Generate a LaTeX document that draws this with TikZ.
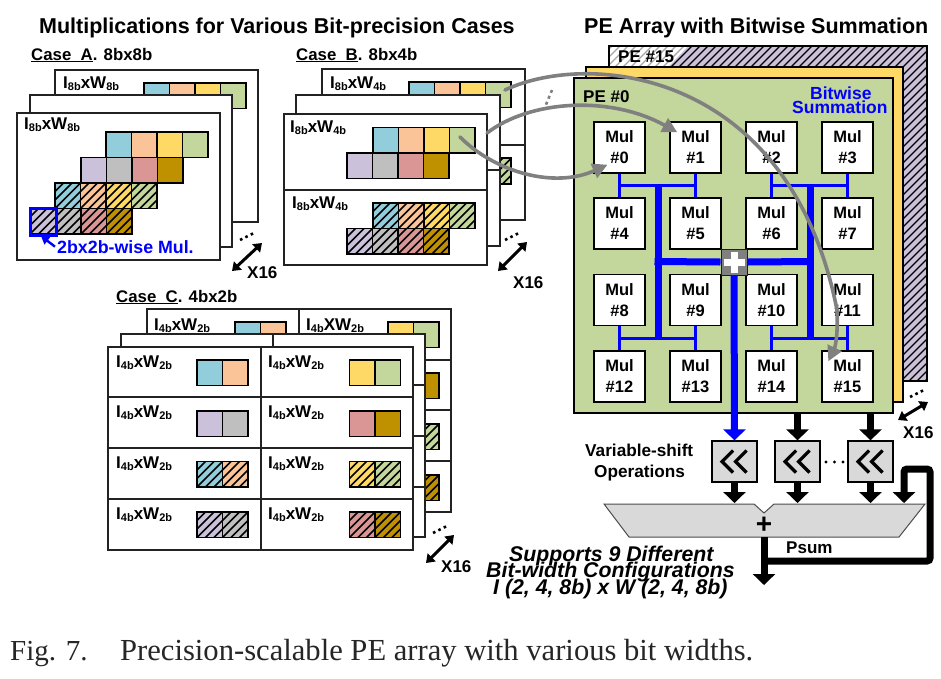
\documentclass[tikz,border=0pt]{standalone}
\usepackage{fontspec}
\setmainfont{Liberation Sans}
\newfontfamily\capfont{Liberation Serif}
\usetikzlibrary{arrows.meta,calc}
\definecolor{ca}{HTML}{92CDDC}
\definecolor{cb}{HTML}{FAC398}
\definecolor{cc}{HTML}{FFD966}
\definecolor{cd}{HTML}{C3D69B}
\definecolor{ce}{HTML}{CCC1DA}
\definecolor{cf}{HTML}{BFBFBF}
\definecolor{cg}{HTML}{D99694}
\definecolor{ch}{HTML}{BF9000}
\definecolor{bluebus}{HTML}{0000FF}
\definecolor{grayarrow}{HTML}{808080}
\definecolor{boxgray}{HTML}{D9D9D9}
\definecolor{pagedark}{HTML}{222222}
\tikzset{
  txt/.style={inner sep=0pt,anchor=base west,font=\bfseries\fontsize{17}{17}\selectfont},
  casetxt/.style={txt,font=\bfseries\fontsize{16.8}{17}\selectfont},
  paper/.style={draw=pagedark,line width=1.1pt,fill=white},
  pagerule/.style={draw=pagedark,line width=1.1pt},
  cellline/.style={draw=black,line width=1.7pt},
  mulbox/.style={draw=black,line width=1.4pt,fill=white,minimum width=51pt,minimum height=51pt,inner sep=0pt,align=center,font=\bfseries\fontsize{16.5}{21}\selectfont},
  shiftbox/.style={draw=black,line width=1.3pt,fill=boxgray,minimum width=45pt,minimum height=41pt,inner sep=0pt},
  thinbus/.style={draw=bluebus,line width=3.5pt},
  thickbus/.style={draw=bluebus,line width=7pt},
  bigarrow/.style={draw=black,line width=7pt,-{Triangle[length=11pt,width=22pt]}},
  bluearrow/.style={draw=bluebus,line width=7pt,-{Triangle[length=11pt,width=22pt]}},
  sizearrow/.style={draw=black,line width=3pt,{Triangle[length=8pt,width=11pt]}-{Triangle[length=8pt,width=11pt]}},
  dotline/.style={draw=black,line width=2.6pt,dash pattern=on 2.6pt off 3.4pt},
  curve/.style={draw=grayarrow,line width=3.6pt,line cap=round},
  curvearrow/.style={curve,-{Triangle[length=15pt,width=15pt]}},
  chev/.style={draw=black,line width=3.2pt},
  titletxt/.style={txt,font=\bfseries\fontsize{21.5}{21.5}\selectfont},
  notetxt/.style={txt,font=\bfseries\itshape\fontsize{21.3}{21.3}\selectfont},
}
\newcommand{\cellf}[5]{\fill[#5] (#1,#2) rectangle ++(#3,#4); \draw[cellline] (#1,#2) rectangle ++(#3,#4);}
\newcommand{\cellh}[5]{%
  \begin{scope}
    \clip (#1,#2) rectangle ++(#3,#4);
    \fill[#5] (#1,#2) rectangle ++(#3,#4);
    \foreach \d in {-34,-25.5,-17,-8.5,0,8.5,17,25.5}
      \draw[black,line width=1.5pt] ({#1+\d},{#2+#4}) -- ({#1+\d+#4},#2);
  \end{scope}
  \draw[cellline] (#1,#2) rectangle ++(#3,#4);}
\newcommand{\rowf}[3]{\foreach \c [count=\i from 0] in {#3} {\pgfmathsetmacro\xx{#1+\i*25.5}\cellf{\xx}{#2}{25.5}{25.5}{\c}}}
\newcommand{\rowh}[3]{\foreach \c [count=\i from 0] in {#3} {\pgfmathsetmacro\xx{#1+\i*25.5}\cellh{\xx}{#2}{25.5}{25.5}{\c}}}
\newcommand{\sub}[1]{{\fontsize{11}{11}\selectfont\raisebox{-2.5pt}{#1}}}
\newcommand{\lab}[3]{I\sub{#1}#3W\sub{#2}}
\begin{document}
\begin{tikzpicture}[x=1pt,y=-1pt]
\useasboundingbox (0,0) rectangle (941,678);
\fill[white] (0,0) rectangle (941,678);

% titles
\node[titletxt] (t1) at (39,33) {Multiplications for Various Bit-precision Cases};
\node[titletxt] (t2) at (584,33) {PE Array with Bitwise Summation};

% ---------- Case A
\node[casetxt] (ca) at (31,60) {\underline{Case\ \ A}. 8bx8b};
\draw[paper] (55,70) rectangle (258,222);
\node[txt] (a1) at (63,88) {\lab{8b}{8b}{x}};
\rowf{144}{83}{ca,cb,cc,cd}
\draw[paper] (30,95) rectangle (232,247);
\draw[paper] (17,113) rectangle (220,260);
\node[txt] (a2) at (24,129) {\lab{8b}{8b}{x}};
\rowf{106}{132}{ca,cb,cc,cd}
\rowf{81}{157.5}{ce,cf,cg,ch}
\rowh{55}{183}{ca,cb,cc,cd}
\rowh{30}{208.5}{ce,cf,cg,ch}
\draw[draw=bluebus,line width=3pt] (30,208.5) rectangle (56,235);
\node[txt,text=bluebus,font=\bfseries\fontsize{17.8}{17.8}\selectfont] (a3) at (57,253) {2bx2b-wise Mul.};
\coordinate (a3t) at (41,236);
\draw[draw=bluebus,line width=2.4pt,-{Triangle[length=8pt,width=9pt]}] (a3.west) ++(-2,0) -- (a3t);
\draw[sizearrow] (262,243) -- (232,271);
\draw[dotline] (240,240) -- (256,232);
\node[txt] (ax) at (247,278) {X16};

% ---------- Case B
\node[casetxt] (cb) at (296,60) {\underline{Case\ \ B}. 8bx4b};
\draw[paper] (322,69) rectangle (525,220);
\draw[pagerule] (322,145) -- (525,145);
\node[txt] (b1) at (330,88) {\lab{8b}{4b}{x}};
\rowf{409}{82}{ca,cb,cc,cd}
\cellh{485.5}{158}{25.5}{26}{cd}
\draw[paper] (296,95) rectangle (500,246);
\draw[pagerule] (296,170) -- (500,170);
\draw[paper] (284,114) rectangle (487,265);
\draw[pagerule] (284,190) -- (487,190);
\node[txt] (b2) at (290,132) {\lab{8b}{4b}{x}};
\node[txt] (b3) at (292,208) {\lab{8b}{4b}{x}};
\rowf{373}{127.5}{ca,cb,cc,cd}
\rowf{347}{153}{ce,cf,cg,ch}
\rowh{373}{203}{ca,cb,cc,cd}
\rowh{347}{228.5}{ce,cf,cg,ch}
\draw[sizearrow] (527,242) -- (498,271);
\draw[dotline] (505,240) -- (521,232);
\node[txt] (bx) at (513,288) {X16};
\draw[draw=grayarrow,line width=2.6pt,dash pattern=on 3pt off 3.4pt] (552,90) -- (545,107);

% ---------- Case C
\node[casetxt] (cc) at (116,302) {\underline{Case\ \ C}. 4bx2b};
\draw[paper] (147,309) rectangle (451,512);
\draw[pagerule] (299,309) -- (299,512);
\foreach \yy in {360,410,461} \draw[pagerule] (147,\yy) -- (451,\yy);
\node[txt] (c1) at (154,330) {\lab{4b}{2b}{x}};
\node[txt] (c2) at (306,330) {\lab{4b}{2b}{X}};
\rowf{235}{322}{ca,cb}
\rowf{388}{322}{cc,cd}
\cellf{413.5}{373}{25.5}{25.5}{ch}
\cellh{413.5}{424}{25.5}{25.5}{cd}
\cellh{413.5}{475}{25.5}{25.5}{ch}
\draw[paper] (121,334) rectangle (425,537);
\draw[pagerule] (273,334) -- (273,537);
\foreach \yy in {385,436,487} \draw[pagerule] (121,\yy) -- (425,\yy);
\draw[paper] (108,347) rectangle (413,550);
\draw[pagerule] (261,347) -- (261,550);
\foreach \yy in {397,448,499} \draw[pagerule] (108,\yy) -- (413,\yy);
\foreach \yy [count=\k] in {367,417,468,519} {
  \node[txt] (cl\k) at (116,\yy) {\lab{4b}{2b}{x}};
  \node[txt] (cr\k) at (268,\yy) {\lab{4b}{2b}{x}};
}
\rowf{197}{360}{ca,cb}
\rowf{349.5}{360}{cc,cd}
\rowf{197}{411}{ce,cf}
\rowf{349.5}{411}{cg,ch}
\rowh{197}{461.5}{ca,cb}
\rowh{349.5}{461.5}{cc,cd}
\rowh{197}{512}{ce,cf}
\rowh{349.5}{512}{cg,ch}
\draw[sizearrow] (454,535) -- (426,563);
\draw[dotline] (433,533) -- (449,525);
\node[txt] (cx) at (441,572) {X16};

% ---------- PE array
\begin{scope}
  \clip (609,46) rectangle (927,381);
  \fill[ce] (609,46) rectangle (927,381);
  \foreach \d in {-340,-332,...,320}
    \draw[black,line width=1.1pt] ({609+\d},381) -- ({609+\d+335},46);
  \begin{scope}
    \clip (609,46) -- (688,46) -- (668,67) -- (609,67) -- cycle;
    \fill[white] (609,46) rectangle (690,67);
    \foreach \d in {-340,-332,...,320}
      \draw[black!35,line width=1.1pt] ({609+\d},381) -- ({609+\d+335},46);
  \end{scope}
\end{scope}
\draw[black,line width=1.3pt] (609,46) rectangle (927,381);
\node[txt] (pe15) at (618,62) {PE \#15};
\draw[black,line width=1.3pt,fill=cc] (586,67) rectangle (903,402);
\node[draw=black,line width=1.3pt,fill=cd,minimum width=319pt,minimum height=335pt,inner sep=0pt] (pe) at (733.5,245.5) {};
\node[txt] (pe0) at (583,102) {PE \#0};
\node[txt,text=bluebus,font=\bfseries\fontsize{17.5}{17.5}\selectfont] (bw1) at (810,99) {Bitwise};
\node[txt,text=bluebus,font=\bfseries\fontsize{17.5}{17.5}\selectfont] (bw2) at (792,113) {Summation};

\foreach \n/\cx/\cy in {0/619.5/147.5,1/695.5/147.5,2/771.5/147.5,3/847.5/147.5,
                        4/619.5/223.5,5/695.5/223.5,6/771.5/223.5,7/847.5/223.5,
                        8/619.5/300,9/695.5/300,10/771.5/300,11/847.5/300,
                        12/619.5/376.5,13/695.5/376.5,14/771.5/376.5,15/847.5/376.5}
  \node[mulbox] (m\n) at (\cx,\cy) {Mul\\\#\n};
\node[draw=bluebus,line width=1pt,fill=grayarrow,minimum width=26pt,minimum height=26pt,inner sep=0pt] (plus) at (734,262) {};
% buses
\draw[thinbus] (m0.south) -- (m4.north);
\draw[thinbus] (m1.south) -- (m5.north);
\draw[thinbus] (m2.south) -- (m6.north);
\draw[thinbus] (m3.south) -- (m7.north);
\draw[thinbus] (m8.south) -- (m12.north);
\draw[thinbus] (m9.south) -- (m13.north);
\draw[thinbus] (m10.south) -- (m14.north);
\draw[thinbus] (m11.south) -- (m15.north);
\coordinate (h0) at ($(m0.south)!.5!(m4.north)$);
\coordinate (h1) at ($(m1.south)!.5!(m5.north)$);
\coordinate (h2) at ($(m2.south)!.5!(m6.north)$);
\coordinate (h3) at ($(m3.south)!.5!(m7.north)$);
\coordinate (h8) at ($(m8.south)!.5!(m12.north)$);
\coordinate (h9) at ($(m9.south)!.5!(m13.north)$);
\coordinate (h10) at ($(m10.south)!.5!(m14.north)$);
\coordinate (h11) at ($(m11.south)!.5!(m15.north)$);
\draw[thinbus] (h0) -- (h1);
\draw[thinbus] (h2) -- (h3);
\draw[thinbus] (h8) -- (h9);
\draw[thinbus] (h10) -- (h11);
\draw[thickbus] (658,183.5) -- (658,339.5);
\draw[thickbus] (810,183.5) -- (810,339.5);
\draw[thickbus] (654.5,261.5) -- (plus.west);
\draw[thickbus] (plus.east) -- (813.5,261.5);
\draw[white,line width=7pt] ($(plus.center)+(-10.5,0)$) -- ($(plus.center)+(10.5,0)$);
\draw[white,line width=7pt] ($(plus.center)+(0,-10.5)$) -- ($(plus.center)+(0,10.5)$);

% shifters
\node[shiftbox] (s1) at (734.5,461.5) {};
\node[shiftbox] (s2) at (797.5,461.5) {};
\node[shiftbox] (s3) at (870.5,461.5) {};
\foreach \s in {s1,s2,s3} {
  \draw[chev] ($(\s.center)+(-1.5,-11)$) -- ($(\s.center)+(-12.5,0)$) -- ($(\s.center)+(-1.5,11)$);
  \draw[chev] ($(\s.center)+(12,-11)$) -- ($(\s.center)+(1,0)$) -- ($(\s.center)+(12,11)$);
}
\draw[bluearrow] (plus.south) -- (s1.north);
\draw[bigarrow] (s2.north |- pe.south) -- (s2.north);
\draw[bigarrow] (s3.north |- pe.south) -- (s3.north);
\node[txt,font=\bfseries\fontsize{17.2}{17.2}\selectfont] (vs1) at (585,456) {Variable-shift};
\node[txt,font=\bfseries\fontsize{17.2}{17.2}\selectfont] (vs2) at (594,477) {Operations};
\fill[black] (826,462) circle (1.6) (834.5,462) circle (1.6) (843,462) circle (1.6);

% adder
\draw[draw=black!70,line width=1pt,fill=boxgray] (604,504) -- (754,504) -- (764,513) -- (774,504) -- (925,504) -- (899,537) -- (629,537) -- cycle;
\coordinate (addout) at (764,537);
\coordinate (addin1) at (734.5,503);
\coordinate (addin2) at (797.5,503);
\coordinate (addin3) at (870.5,503);
\coordinate (addin4) at (904,503);
\draw[bigarrow] (s1.south) -- (addin1);
\draw[bigarrow] (s2.south) -- (addin2);
\draw[bigarrow] (s3.south) -- (addin3);
\node[inner sep=0pt,font=\bfseries\fontsize{28}{28}\selectfont] (addplus) at (764,525) {+};
\coordinate (out) at (764,585);
\draw[bigarrow] (addout) -- (out);
\coordinate (fb) at (764,561);
\draw[draw=black,line width=7pt,rounded corners=3pt,-{Triangle[length=11pt,width=22pt]}] (fb) -- (930,561) -- (930,469) -- (904,469) -- (addin4);
\node[txt] (psum) at (786,553) {Psum};
\draw[sizearrow] (928,402) -- (898,420);
\draw[dotline] (910,397) -- (926,389);
\node[txt] (px) at (903,438) {X16};

\node[notetxt] (n1) at (509,561) {Supports 9 Different};
\node[notetxt] (n2) at (486,577) {Bit-width Configurations};
\node[notetxt] (n3) at (493,594) {I (2, 4, 8b) x W (2, 4, 8b)};

% gray curves
\coordinate (g1) at (460,137);
\coordinate (g2) at (487,133);
\coordinate (g3) at (505,90);
\draw[curvearrow] (g1) .. controls (495,172) and (554,189) .. ($(m0.south)+(-12,-9)$);
\draw[curvearrow] (g2) .. controls (530,100) and (610,95) .. ($(m1.north west)+(8,11)$);
\draw[curvearrow] (g3) .. controls (590,50) and (790,70) .. (837,310) .. controls (838,330) and (836,345) .. ($(m15.north west)+(7,11)$);

% caption
\node[txt,font=\capfont\fontsize{29}{29}\selectfont,text=black!85] (cap) at (10,660) {Fig. 7.};
\node[txt,font=\capfont\fontsize{30.6}{30.6}\selectfont,text=black!85] (cap2) at (120,660) {Precision-scalable PE array with various bit widths.};
\end{tikzpicture}
\end{document}
